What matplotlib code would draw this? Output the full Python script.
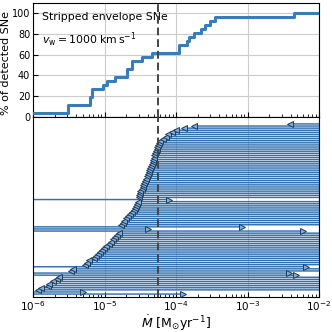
import numpy as np
import matplotlib
matplotlib.use("Agg")
import matplotlib.pyplot as plt

# top panel: cumulative step curve (Mdot edges, percent)
step_x = [1e-6, 3.12e-6, 6.27e-6, 6.6e-6, 9.6e-6, 1.07e-5, 1.4e-5, 2.04e-5, 2.4e-5,
          3.3e-5, 4.57e-5, 1.11e-4, 1.41e-4, 1.53e-4, 1.8e-4, 2.24e-4, 2.57e-4,
          3.0e-4, 3.5e-4, 4.5e-3, 1e-2]
step_pct = [3.8, 11.5, 19.2, 26.9, 30.8, 34.6, 38.5, 46.2, 53.8, 57.7, 61.5, 69.2,
            73.1, 76.9, 80.8, 84.6, 88.5, 92.3, 96.2, 100.0, 100.0]

# lower panel: one row per SN, bottom to top. '<' = excluded to the right, '>' = to the left
row_mdot = [1.26e-4, 5.0e-6, 1.18e-6, 1.3e-6, 1.6e-6, 1.7e-6, 1.9e-6, 2.2e-6, 2.3e-6,
            4.8e-3, 3.8e-3, 3.4e-6, 3.6e-6, 6.6e-3, 5.3e-6, 5.7e-6, 6.0e-6, 7.1e-6,
            7.6e-6, 8.1e-6, 8.6e-6, 9.2e-6, 9.8e-6, 1.05e-5, 1.15e-5, 1.23e-5, 1.3e-5,
            1.4e-5, 1.5e-5, 1.58e-5, 6.0e-3, 4.06e-5, 8.4e-4, 1.7e-5, 1.8e-5, 1.9e-5,
            2.0e-5, 2.15e-5, 2.3e-5, 2.45e-5, 2.6e-5, 2.7e-5, 2.8e-5, 2.85e-5, 2.95e-5,
            8.0e-5, 3.0e-5, 3.05e-5, 3.1e-5, 3.15e-5, 3.3e-5, 3.4e-5, 3.5e-5, 3.6e-5,
            3.7e-5, 3.85e-5, 3.95e-5, 4.05e-5, 4.15e-5, 4.25e-5, 4.35e-5, 4.45e-5,
            4.6e-5, 4.7e-5, 4.8e-5, 4.85e-5, 4.95e-5, 5.1e-5, 5.2e-5, 5.35e-5, 5.45e-5,
            5.6e-5, 5.8e-5, 5.95e-5, 6.5e-5, 7.2e-5, 7.7e-5, 8.8e-5, 1.0e-4, 1.3e-4,
            1.8e-4, 3.9e-3]
row_kind = ['>', '>', '<', '<', '<', '<', '<', '<', '<',
            '>', '>', '<', '<', '>', '<', '<', '<', '<',
            '<', '<', '<', '<', '<', '<', '<', '<', '<',
            '<', '<', '<', '>', '>', '>', '<', '<', '<',
            '<', '<', '<', '<', '<', '<', '<', '<', '<',
            '>', '<', '<', '<', '<', '<', '<', '<', '<',
            '<', '<', '<', '<', '<', '<', '<', '<',
            '<', '<', '<', '<', '<', '<', '<', '<', '<',
            '<', '<', '<', '<', '<', '<', '<', '<', '<',
            '<', '<']

mdot_ref = 5.65e-5
xmin, xmax = 1e-6, 1e-2
blue = '#3a7bb9'
row_blue = '#3270b0'

fig = plt.figure(figsize=(3.32, 3.32), dpi=100)
ax1 = fig.add_axes([33/332, 1 - 117/332, 286/332, 114/332])
ax2 = fig.add_axes([33/332, 1 - 297/332, 286/332, 180/332])

# --- top panel ---
ax1.plot(step_x, step_pct, drawstyle='steps-post', color=blue, lw=2.2, zorder=3)
ax1.axvline(mdot_ref, color='#444444', ls=(0, (4, 2)), lw=1.4, zorder=4)
ax1.set_xscale('log')
ax1.set_xlim(xmin, xmax)
ax1.set_ylim(0, 109.5)
ax1.set_yticks([0, 20, 40, 60, 80, 100])
ax1.grid(True, color='#cccccc', lw=0.8)
ax1.tick_params(which='both', direction='in', labelsize=7, labelbottom=False, pad=2)
ax1.set_ylabel('% of detected SNe', fontsize=8)
ax1.yaxis.set_label_coords(-0.077, 0.47)
ax1.text(0.032, 0.85, 'Stripped envelope SNe', transform=ax1.transAxes, fontsize=7.8)
ax1.text(0.032, 0.64, r'$v_\mathrm{w} = 1000\ \mathrm{km\,s^{-1}}$',
         transform=ax1.transAxes, fontsize=7.8)

# --- lower panel ---
# snap=False so the dense rows blend instead of filling whole pixels
for k, (v, kind) in enumerate(zip(row_mdot, row_kind)):
    if kind == '<':
        ax2.plot([v, xmax], [k, k], color=row_blue, lw=1.05, snap=False, zorder=2)
    else:
        ax2.plot([xmin, v], [k, k], color=row_blue, lw=1.05, snap=False, zorder=2)
    ax2.plot(v, k, marker=kind, ms=3.8, mfc='#7fb0dc', mec='#1f3b5a', mew=0.7, zorder=3)
ax2.axvline(mdot_ref, color='#444444', ls=(0, (4, 2)), lw=1.4, zorder=4)
ax2.set_xscale('log')
ax2.set_xlim(xmin, xmax)
ax2.set_ylim(-1.4, len(row_mdot) + 2.3)
ax2.set_yticks([])
ax2.grid(True, axis='x', color='#cccccc', lw=0.8)
ax2.tick_params(which='both', direction='in', labelsize=7.5, pad=1.5)
ax2.set_xlabel(r'$\dot{M}\ [\mathrm{M_{\odot} yr^{-1}}]$', fontsize=9)
ax2.xaxis.set_label_coords(0.5, -0.093)

fig.savefig('out.png', dpi=100)
